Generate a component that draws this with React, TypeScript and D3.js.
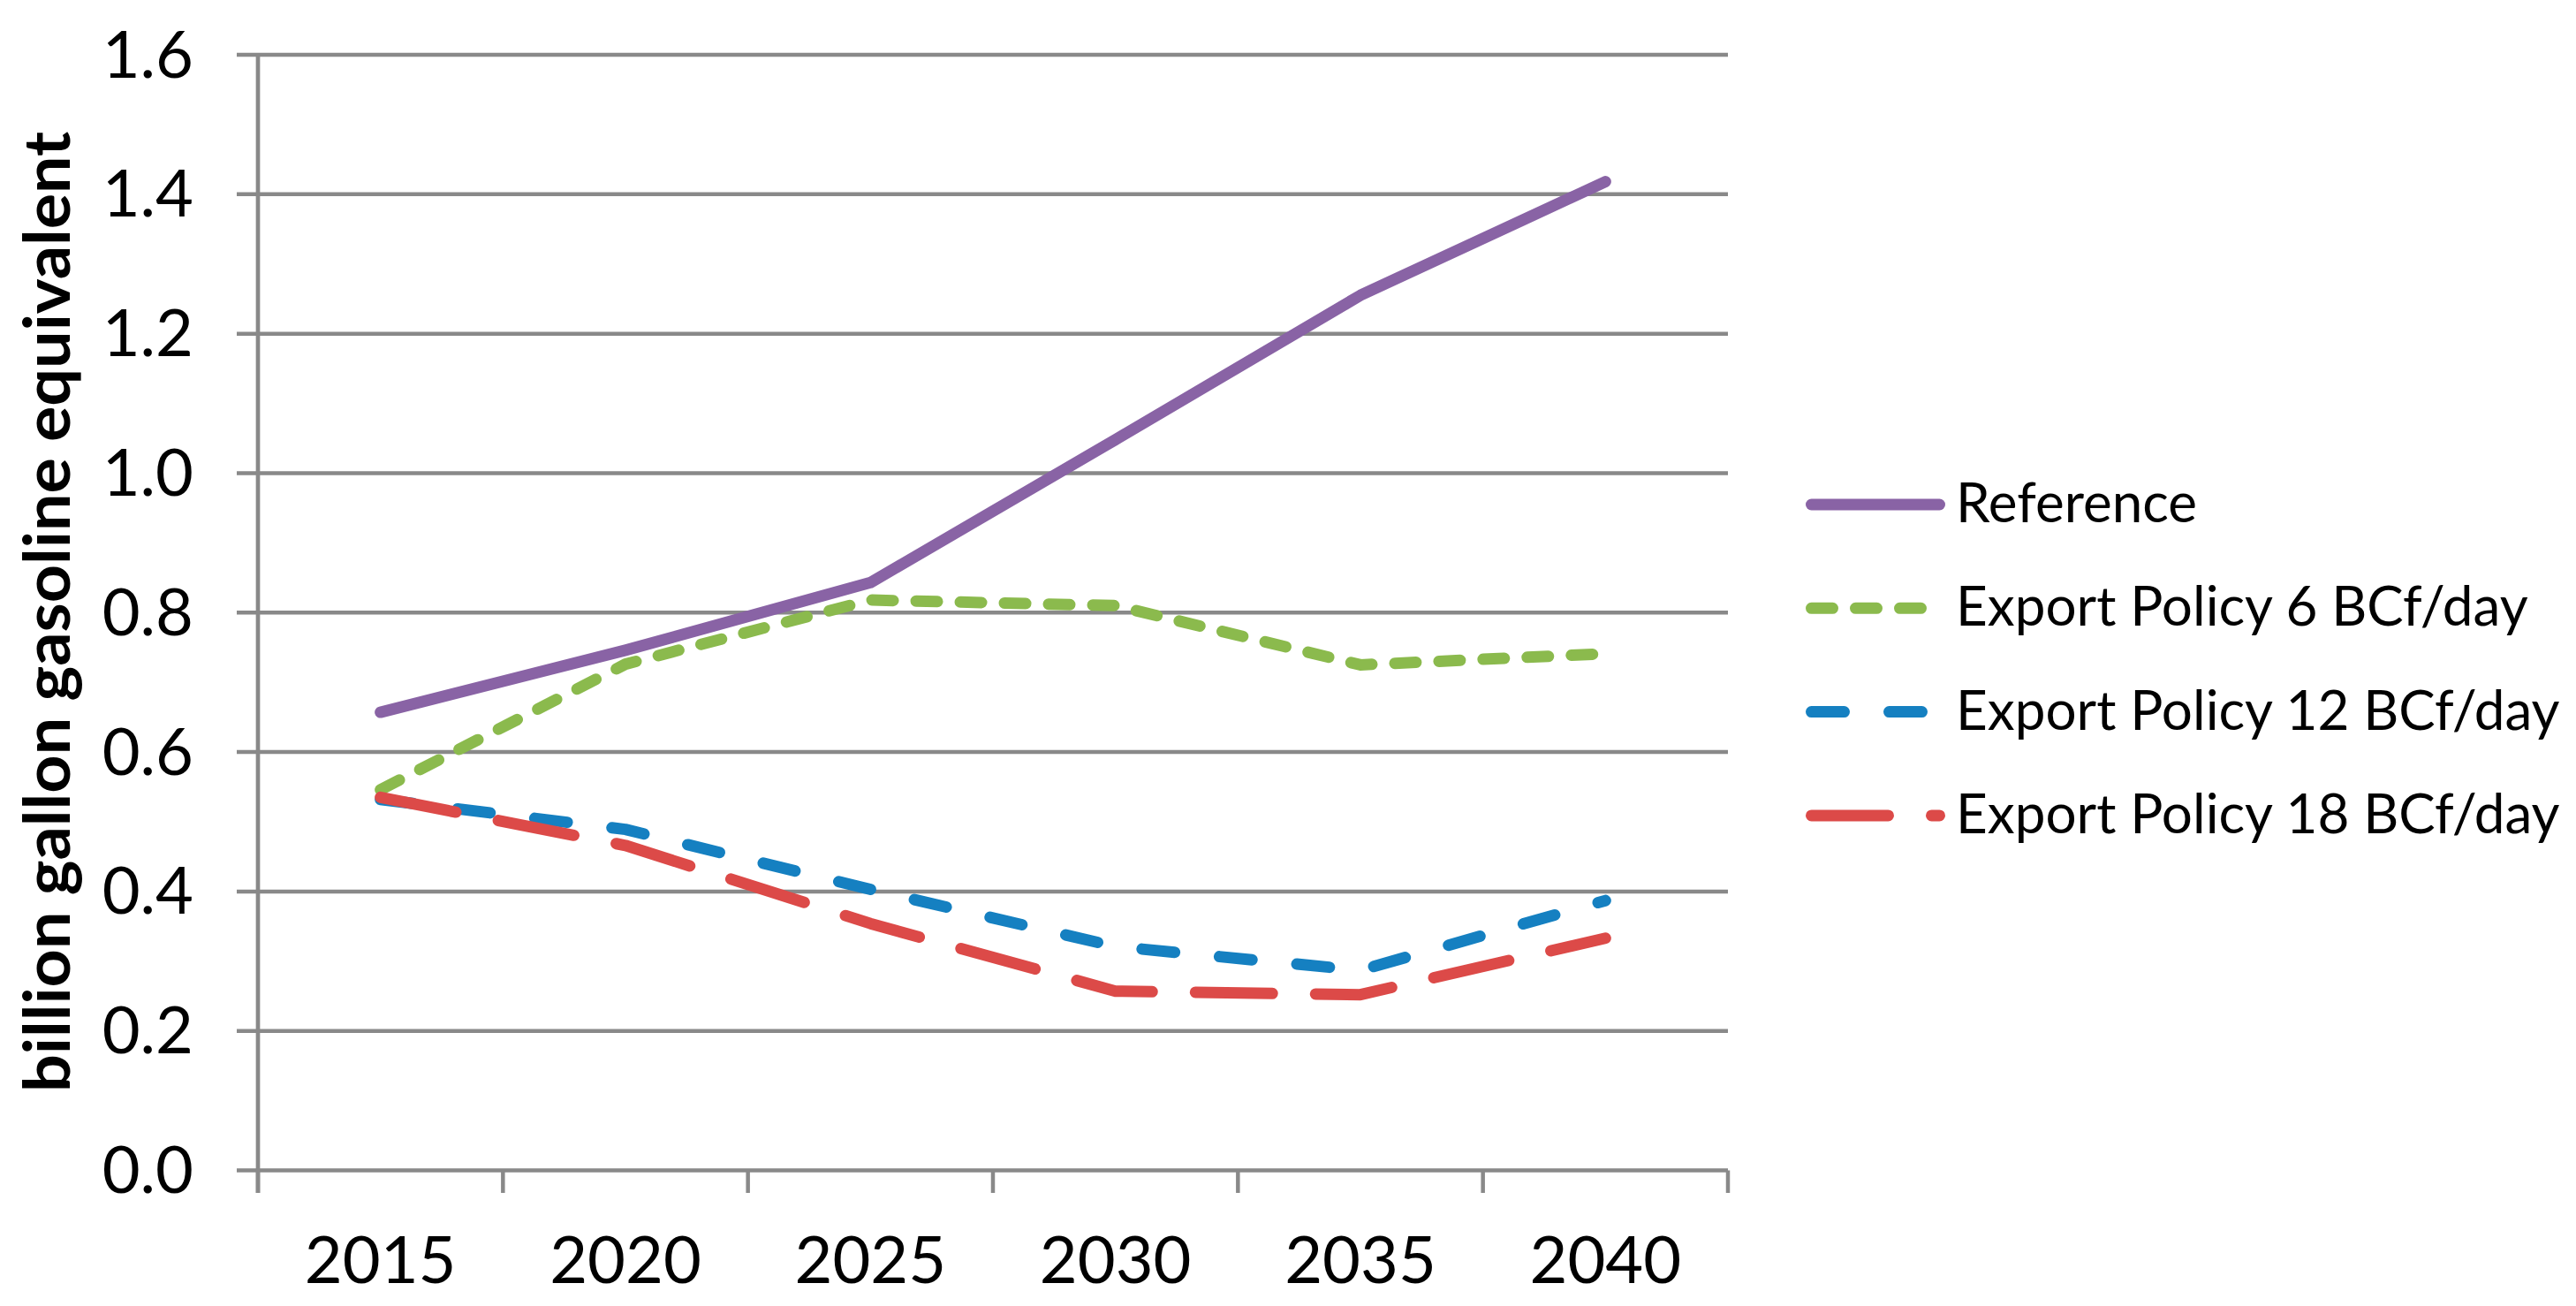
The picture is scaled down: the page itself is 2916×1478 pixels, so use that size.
import React from "react";
import * as d3 from "d3";

const years = ["2015", "2020", "2025", "2030", "2035", "2040"];
const reference = [0.657, 0.746, 0.843, 1.048, 1.255, 1.418];
const export6 = [0.546, 0.726, 0.818, 0.81, 0.725, 0.741];
const export12 = [0.532, 0.489, 0.403, 0.321, 0.287, 0.387];
const export18 = [0.535, 0.466, 0.354, 0.257, 0.252, 0.333];
const yTicks = [0, 0.2, 0.4, 0.6, 0.8, 1.0, 1.2, 1.4, 1.6];
const seriesNames = [
  "Reference",
  "Export Policy 6 BCf/day",
  "Export Policy 12 BCf/day",
  "Export Policy 18 BCf/day",
];

const W = 2916;
const H = 1478;
const FONT = "Lato, 'Noto Sans', sans-serif";
const GRID = "#898989";

const series = [
  { name: seriesNames[0], values: reference, color: "#8963A5", dash: "none" },
  { name: seriesNames[1], values: export6, color: "#8BBA4D", dash: "24 26" },
  { name: seriesNames[2], values: export12, color: "#1580C1", dash: "37 51" },
  { name: seriesNames[3], values: export18, color: "#DC4A48", dash: "87 49" },
];

export default function App() {
  const x = d3.scaleBand<string>().domain(years).range([292, 1956]).padding(0);
  const y = d3.scaleLinear().domain([0, 1.6]).range([1324.5, 62]);
  const cx = (d: string) => (x(d) as number) + x.bandwidth() / 2;
  const line = d3
    .line<number>()
    .x((_, i) => cx(years[i]))
    .y((v) => y(v));

  const boundaries = years.map((d) => x(d) as number).concat([1956]);
  const legendX0 = 2050.5;
  const legendX1 = 2195.5;
  const legendBase = (i: number) => 591 + i * 117.3;

  return (
    <svg
      width={W}
      height={H}
      viewBox={`0 0 ${W} ${H}`}
      style={{ position: "absolute", left: 0, top: 0, display: "block", background: "#fff" }}
    >
      <rect x={0} y={0} width={W} height={H} fill="#fff" />
      {yTicks.map((t) => (
        <line
          key={"g" + t}
          x1={268}
          x2={1956}
          y1={y(t)}
          y2={y(t)}
          stroke={GRID}
          strokeWidth={4.5}
        />
      ))}
      <line x1={292} x2={292} y1={y(1.6)} y2={1350} stroke={GRID} strokeWidth={4.7} />
      {boundaries.map((b, i) => (
        <line
          key={"xt" + i}
          x1={b}
          x2={b}
          y1={y(0)}
          y2={1350}
          stroke={GRID}
          strokeWidth={4.5}
        />
      ))}
      {yTicks.map((t) => (
        <text
          key={"yl" + t}
          x={219}
          y={y(t) + 25.5}
          textAnchor="end"
          fontFamily={FONT}
          fontSize={74}
          fill="#000"
        >
          {t.toFixed(1)}
        </text>
      ))}
      {years.map((d) => (
        <text
          key={"xl" + d}
          x={cx(d)}
          y={1452}
          textAnchor="middle"
          fontFamily={FONT}
          fontSize={74}
          fill="#000"
        >
          {d}
        </text>
      ))}
      <text
        transform="translate(79,692.5) rotate(-90)"
        textAnchor="middle"
        fontFamily={FONT}
        fontWeight="bold"
        fontSize={73}
        textLength={1087}
        lengthAdjust="spacingAndGlyphs"
        fill="#000"
      >
        billion gallon gasoline equivalent
      </text>
      {series.map((s) => (
        <path
          key={s.name}
          d={line(s.values) || ""}
          fill="none"
          stroke={s.color}
          strokeWidth={13}
          strokeDasharray={s.dash}
          strokeLinecap="round"
          strokeLinejoin="round"
        />
      ))}
      {series.map((s, i) => (
        <g key={"lg" + s.name}>
          <line
            x1={legendX0}
            x2={legendX1}
            y1={legendBase(i) - 20}
            y2={legendBase(i) - 20}
            stroke={s.color}
            strokeWidth={13}
            strokeDasharray={s.dash}
            strokeLinecap="round"
          />
          <text
            x={2214}
            y={legendBase(i)}
            fontFamily={FONT}
            fontSize={62}
            fill="#000"
          >
            {s.name}
          </text>
        </g>
      ))}
    </svg>
  );
}
